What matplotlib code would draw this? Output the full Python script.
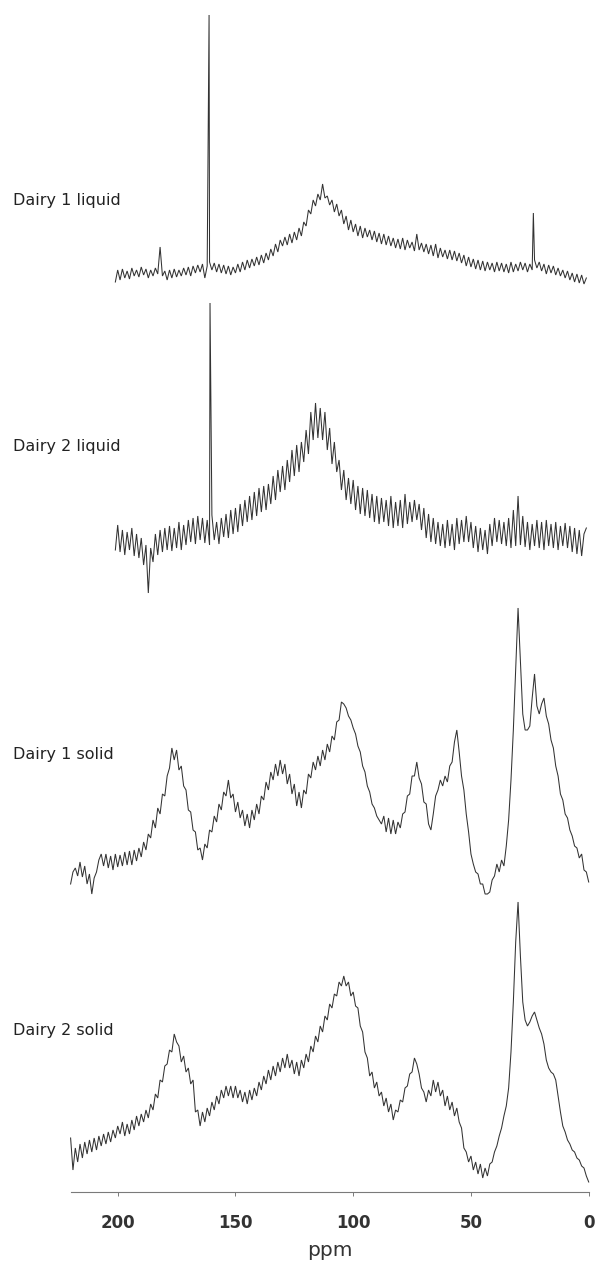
import numpy as np
import matplotlib
matplotlib.use("Agg")
import matplotlib.pyplot as plt

# ---------------- data (intensities in arbitrary units) ----------------
ppm_liquid = np.arange(201, 0, -1)      # 201 ... 1 ppm
ppm_solid = np.arange(220, -1, -1)      # 220 ... 0 ppm

dairy1_liquid = [
    18, 30, 20, 31, 22, 29, 21, 32, 24, 30,      # 201-192
    23, 33, 25, 31, 22, 30, 24, 32, 26, 53,      # 191-182
    24, 29, 20, 30, 22, 31, 23, 30, 24, 32,      # 181-172
    25, 33, 24, 34, 27, 35, 28, 36, 22, 34,      # 171-162
    38, 30, 37, 28, 36, 27, 35, 26, 34, 25,      # 161-152
    33, 27, 36, 28, 38, 30, 40, 32, 41, 34,      # 151-142
    43, 35, 45, 37, 47, 40, 51, 44, 56, 48,      # 141-132
    60, 54, 63, 55, 66, 57, 68, 60, 72, 64,      # 131-122
    78, 74, 90, 86, 100, 94, 106, 100, 116, 102, # 121-112
    104, 95, 100, 88, 96, 84, 90, 76, 84, 70,    # 111-102
    80, 68, 76, 64, 74, 62, 72, 63, 70, 60,      # 101-92
    69, 58, 67, 56, 66, 55, 64, 54, 62, 52,      # 91-82
    61, 51, 62, 50, 60, 52, 58, 49, 66, 50,      # 81-72
    57, 48, 56, 46, 55, 44, 56, 42, 52, 43,      # 71-62
    50, 41, 50, 40, 49, 39, 47, 37, 45, 34,      # 61-52
    43, 33, 41, 31, 40, 30, 39, 29, 38, 30,      # 51-42
    37, 28, 38, 29, 37, 28, 36, 27, 38, 28,      # 41-32
    36, 29, 38, 30, 37, 28, 36, 30, 40, 32,      # 31-22
    38, 29, 36, 26, 35, 27, 34, 25, 32, 24,      # 21-12
    30, 22, 29, 20, 27, 18, 26, 17, 25, 16,      # 11-2
    22,                                          # 1
]
dairy1_liquid_spike_ppm = [161.2, 23.5]
dairy1_liquid_spike_val = [285, 87]

dairy2_liquid = [
    50, 75, 48, 70, 45, 68, 50, 72, 44, 66,
    42, 62, 35, 55, 7, 52, 38, 66, 45, 70,
    48, 72, 50, 74, 49, 72, 52, 78, 50, 75,
    55, 80, 58, 82, 56, 84, 60, 82, 57, 80,
    55, 85, 60, 78, 56, 82, 63, 86, 62, 90,
    66, 92, 68, 96, 74, 100, 78, 104, 80, 108,
    84, 112, 88, 114, 90, 116, 96, 124, 100, 130,
    108, 134, 110, 140, 118, 150, 124, 155, 128, 158,
    138, 170, 146, 188, 160, 197, 162, 192, 160, 188,
    150, 172, 136, 158, 128, 140, 110, 130, 100, 122,
    96, 120, 90, 114, 86, 112, 84, 110, 82, 106,
    78, 104, 76, 102, 78, 100, 74, 104, 72, 98,
    74, 100, 72, 106, 76, 98, 78, 100, 80, 96,
    70, 92, 62, 86, 58, 82, 56, 78, 54, 76,
    52, 80, 54, 76, 50, 82, 56, 80, 58, 84,
    58, 78, 52, 74, 48, 72, 50, 70, 46, 76,
    54, 82, 58, 80, 56, 78, 54, 82, 52, 90,
    54, 104, 55, 84, 53, 78, 50, 76, 54, 80,
    52, 78, 50, 80, 54, 76, 52, 78, 50, 74,
    54, 77, 52, 74, 48, 72, 46, 70, 44, 66,
    72,
]
dairy2_liquid_spike_ppm = [160.8]
dairy2_liquid_spike_val = [297]

dairy1_solid = [
    26, 38, 42, 34, 48, 33, 44, 26, 36, 16,          # 220-211
    32, 38, 50, 56, 44, 56, 42, 54, 40, 56,          # 210-201
    43, 55, 44, 58, 45, 59, 45, 60, 49, 62,          # 200-191
    53, 68, 60, 76, 72, 90, 82, 102, 96, 116,        # 190-181
    114, 134, 142, 162, 150, 160, 140, 144, 124, 120,
    100, 98, 80, 78, 60, 62, 50, 66, 62, 80,
    78, 94, 88, 106, 100, 118, 114, 130, 112, 116,
    98, 108, 92, 100, 84, 96, 82, 100, 90, 106,
    96, 114, 110, 128, 120, 138, 130, 146, 134, 150,
    136, 146, 126, 136, 116, 126, 104, 118, 102, 120,
    116, 136, 132, 148, 140, 154, 144, 160, 150, 166,
    158, 174, 170, 188, 190, 208, 206, 202, 194, 190,
    182, 176, 164, 158, 144, 138, 124, 118, 106, 102,
    94, 90, 86, 94, 78, 92, 76, 90, 76, 88,
    82, 96, 98, 114, 116, 134, 134, 148, 132, 126,
    108, 106, 86, 80, 96, 114, 120, 130, 124, 134,
    128, 144, 148, 168, 180, 158, 134, 120, 96, 78,
    56, 46, 38, 36, 26, 26, 16, 16, 18, 30,
    34, 46, 38, 50, 44, 64, 90, 130, 180, 240,
    302, 250, 196, 180, 180, 184, 212, 236, 204, 196,
    206, 212, 194, 186, 170, 162, 144, 134, 116, 110,
    96, 92, 80, 74, 64, 62, 52, 56, 40, 38,
    28,
]

dairy2_solid = [
    54, 22, 44, 30, 48, 34, 50, 38, 52, 40,
    54, 42, 56, 46, 58, 48, 60, 50, 62, 54,
    66, 58, 70, 56, 68, 58, 72, 62, 76, 66,
    78, 70, 82, 74, 88, 82, 98, 94, 112, 110,
    126, 128, 142, 140, 158, 150, 146, 130, 136, 120,
    124, 108, 112, 80, 82, 66, 80, 70, 84, 76,
    90, 82, 96, 88, 102, 94, 106, 96, 106, 94,
    106, 94, 102, 90, 100, 88, 102, 92, 104, 96,
    110, 102, 116, 108, 122, 112, 126, 116, 130, 120,
    134, 124, 138, 124, 132, 118, 130, 116, 132, 124,
    138, 130, 146, 140, 156, 150, 166, 160, 176, 172,
    188, 184, 198, 196, 210, 206, 216, 206, 210, 196,
    200, 186, 184, 166, 160, 140, 134, 116, 120, 104,
    110, 96, 100, 86, 94, 80, 88, 72, 82, 80,
    92, 90, 104, 106, 118, 120, 134, 128, 118, 104,
    100, 90, 102, 96, 112, 100, 110, 96, 102, 86,
    96, 82, 90, 76, 84, 70, 64, 44, 40, 30,
    36, 22, 30, 18, 28, 14, 24, 16, 28, 30,
    40, 46, 56, 64, 76, 86, 104, 140, 190, 250,
    290, 236, 190, 172, 166, 170, 176, 180, 172, 164,
    158, 148, 132, 124, 120, 118, 112, 96, 80, 66,
    60, 52, 48, 42, 40, 34, 32, 26, 24, 16,
    10,
]

labels = ["Dairy 1 liquid", "Dairy 2 liquid", "Dairy 1 solid", "Dairy 2 solid"]
tick_values = [200, 150, 100, 50, 0]
x_label = "ppm"

# ---------------- layout ----------------
W, H = 596, 1269
fig = plt.figure(figsize=(W / 100, H / 100), dpi=100)
ax_left, ax_right = 70.6, 588.7          # pixel x of 220 ppm and 0 ppm
ax_bottom_px = 1192                      # pixel y of the ppm axis
ax = fig.add_axes([ax_left / W, (H - ax_bottom_px) / H,
                   (ax_right - ax_left) / W, ax_bottom_px / H])
ax.set_xlim(220, 0)
ax.set_ylim(0, ax_bottom_px)

offsets = [892, 592, 282, 0]             # vertical stacking of the four traces
line_kw = dict(color="#333333", lw=0.75, solid_joinstyle="miter")


def with_spikes(ppm, vals, sp_ppm, sp_val):
    x = np.concatenate([ppm, sp_ppm]).astype(float)
    y = np.concatenate([vals, sp_val]).astype(float)
    order = np.argsort(-x)
    return x[order], y[order]


x1, y1 = with_spikes(ppm_liquid, dairy1_liquid, dairy1_liquid_spike_ppm, dairy1_liquid_spike_val)
x2, y2 = with_spikes(ppm_liquid, dairy2_liquid, dairy2_liquid_spike_ppm, dairy2_liquid_spike_val)
series = [(x1, y1), (x2, y2),
          (ppm_solid, np.array(dairy1_solid, float)),
          (ppm_solid, np.array(dairy2_solid, float))]

for (x, y), off in zip(series, offsets):
    ax.plot(x, y + off, clip_on=False, **line_kw)

for s in ["left", "right", "top"]:
    ax.spines[s].set_visible(False)
ax.spines["bottom"].set_color("#7a7a7a")
ax.spines["bottom"].set_linewidth(0.8)
ax.set_yticks([])
ax.set_xticks(tick_values)
ax.set_xticklabels([str(t) for t in tick_values], fontsize=12, fontweight="bold",
                   family="DejaVu Sans", color="#333333")
ax.tick_params(axis="x", direction="out", length=3, width=0.7, color="#7a7a7a", pad=13)

label_y_px = [200, 447, 755, 1031]
for lab, ypx in zip(labels, label_y_px):
    fig.text(13 / W, 1 - ypx / H, lab, ha="left", va="center", fontsize=11.5,
             family="DejaVu Sans", color="#222222")

fig.text((ax_left + ax_right) / 2 / W, 1 - 1250 / H, x_label, ha="center", va="center",
         fontsize=14.5, family="DejaVu Sans", color="#333333")

fig.savefig("out.png", dpi=100)
